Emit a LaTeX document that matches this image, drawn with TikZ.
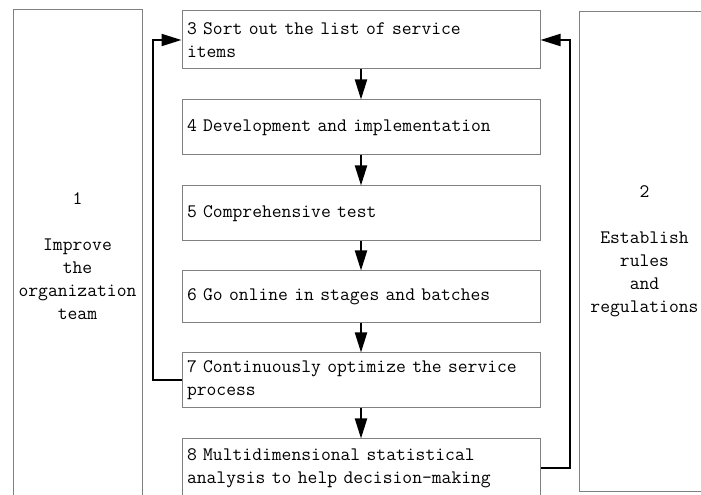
\documentclass[tikz,border=0pt]{standalone}
\usepackage{fontspec}
\usepackage{xcolor}
\usetikzlibrary{arrows.meta}
\usetikzlibrary{positioning}
\definecolor{boxgray}{RGB}{128,128,128}

\begin{document}
\begin{tikzpicture}[x=0.75pt,y=-0.75pt,
    stagebox/.style={rectangle,draw=boxgray,line width=0.75pt,minimum width=268.5pt,minimum height=41.25pt,text width=261pt,inner xsep=3.75pt,align=left},
    sidebox/.style={rectangle,draw=boxgray,line width=0.75pt,align=center},
    flow/.style={line width=1.5pt,-{Triangle[length=15pt,width=9pt]}}]
  \useasboundingbox (0,0) rectangle (701,495);
  \clip (0,0) rectangle (701,495);
  \begin{scope}[every node/.style={font=\ttfamily\fontsize{14.3}{17.25}\selectfont}]
    % side boxes
    \node[sidebox,minimum width=96.75pt,minimum height=369pt] (n1) at (77.5,256) {1\\ \\Improve\\the\\organization\\team};
    \node[sidebox,minimum width=98.25pt,minimum height=360pt] (n2) at (644.5,251.5) {2\\ \\Establish\\rules\\and\\regulations};
    % main steps
    \node[stagebox,minimum height=43.5pt] (n3) at (361,40) {3 Sort out the list of service\\items};
    \node[stagebox] (n4) at (361,127.5) {4 Development and implementation};
    \node[stagebox] (n5) at (361,213.5) {5 Comprehensive test};
    \node[stagebox,minimum height=39pt] (n6) at (361,297) {6 Go online in stages and batches};
    \node[stagebox] (n7) at (361,380.5) {7 Continuously optimize the service\\process};
    \node[stagebox,minimum height=43.5pt] (n8) at (361,468) {8 Multidimensional statistical\\analysis to help decision-making};
  \end{scope}
  \draw[flow] (n3) -- (n4);
  \draw[flow] (n4) -- (n5);
  \draw[flow] (n5) -- (n6);
  \draw[flow] (n6) -- (n7);
  \draw[flow] (n7) -- (n8);
  \draw[flow] (n7.west) -- ++(-29,0) |- (n3.west);
  \draw[flow] (n8.east) -- ++(29,0) |- (n3.east);
\end{tikzpicture}
\end{document}
